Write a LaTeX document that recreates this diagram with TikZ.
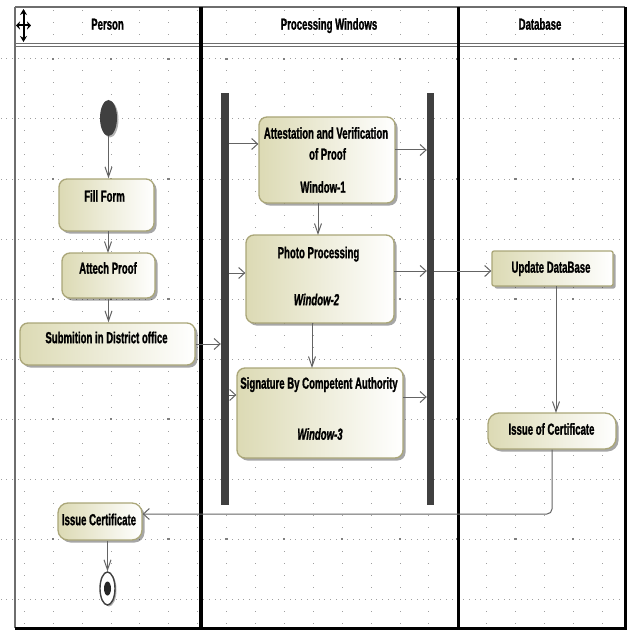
\documentclass[tikz,border=0pt]{standalone}
\usepackage{fontspec}
\setmainfont{Liberation Sans}[FakeStretch=0.6, BoldFeatures={FakeBold=1.2}, BoldItalicFeatures={FakeBold=1.2}]
\usetikzlibrary{arrows.meta,shapes.geometric,shadows}

\definecolor{boxedge}{RGB}{170,166,120}
\definecolor{boxfill}{RGB}{220,218,180}
\definecolor{flow}{RGB}{100,100,100}
\definecolor{barcol}{RGB}{64,64,64}
\definecolor{griddot}{RGB}{160,160,160}
\definecolor{framegray}{RGB}{110,110,110}

\tikzset{
  actbox/.style={draw=boxedge, line width=1.3pt, rounded corners=8pt,
    left color=boxfill, right color=white, inner sep=0pt,
    drop shadow={shadow xshift=2.5pt, shadow yshift=-2.5pt, opacity=0.35, fill=black}},
  lbl/.style={font=\bfseries\fontsize{16}{18}\selectfont, inner sep=0pt,
    text height=11.4pt, text depth=0pt, anchor=center},
  ilbl/.style={lbl, font=\bfseries\itshape\fontsize{16}{18}\selectfont},
  hdr/.style={lbl},
  forkbar/.style={fill=barcol, draw=none, inner sep=0pt, minimum width=8pt},
  hflow/.style={draw=flow, line width=1pt, -{Straight Barb[length=6pt,width=11pt]}},
  vflow/.style={draw=flow, line width=1pt, -{Straight Barb[length=10pt,width=7pt]}},
  dot/.style={fill=griddot},
}

\begin{document}
\begin{tikzpicture}[x=1pt,y=-1pt]
\useasboundingbox (0,0) rectangle (627,631);
\fill[white] (0,0) rectangle (627,631);

% dotted background grid
\foreach \j in {0,...,9}{
  \foreach \i in {-4,...,104}{
    \fill[dot] ({24.3+5.78*\i-0.5},{59+60*\j-0.5}) rectangle ++(1,1);
  }
}
\foreach \i in {0,...,20}{
  \foreach \m in {-4,...,47}{
    \fill[dot] ({24.3+28.9*\i-0.5},{59+12*\m-0.5}) rectangle ++(1,1);
  }
}
\foreach \k in {0,...,9}{
  \foreach \j in {0,...,4}{
    \fill[griddot!80!black] ({53+57.8*\k-1.2},{59+120*\j-1.2}) rectangle ++(2.4,2.4);
  }
}

% swimlane frame
\draw[framegray, line width=1.6pt] (15,7) -- (625,7);
\draw[framegray, line width=1.6pt] (15,7) -- (15,628);
\draw[framegray, line width=1.2pt] (15,43.4) -- (625,43.4);
\draw[framegray, line width=1.2pt] (15,46.3) -- (625,46.3);
\draw[black, line width=3.5pt] (201,7) -- (201,628);
\draw[black, line width=3.5pt] (458.5,7) -- (458.5,628);
\draw[black, line width=3pt] (625,7) -- (625,629.5);
\draw[black, line width=3pt] (15,628) -- (626.5,628);

% move handle
\draw[black, line width=2pt, {Stealth[length=6pt,width=7pt]}-{Stealth[length=6pt,width=7pt]}] (23.5,9) -- (23.5,42);
\draw[black, line width=2pt, {Stealth[length=4pt,width=8pt]}-{Stealth[length=4pt,width=8pt]}] (16,25.5) -- (31,25.5);

% lane headers
\node[hdr] (hperson) at (107.5,24) {Person};
\node[hdr] (hproc) at (329,24) {Processing Windows};
\node[hdr] (hdb) at (540,24) {Database};

% start and end
\node[ellipse, fill=barcol, inner sep=0pt, minimum width=17pt, minimum height=36pt,
  drop shadow={shadow xshift=1.5pt, shadow yshift=-1.5pt, opacity=0.3, fill=black}] (init) at (108.5,118) {};
\node[ellipse, draw=barcol, line width=1.4pt, fill=white, inner sep=0pt,
  minimum width=15pt, minimum height=33pt,
  drop shadow={shadow xshift=1.5pt, shadow yshift=-1.5pt, opacity=0.3, fill=black}] (final) at (107.5,588.5) {};
\node[ellipse, fill=black!85, inner sep=0pt, minimum width=7pt, minimum height=14pt] (finaldot) at (107.5,588.5) {};

% Person lane actions
\node[actbox, minimum width=95pt, minimum height=52pt] (fill) at (106.5,205) {};
\node[lbl] (fillt) at (104.5,196) {Fill Form};
\node[actbox, minimum width=93pt, minimum height=45pt] (attech) at (108.5,275.5) {};
\node[lbl] (attecht) at (108,268) {Attech Proof};
\node[actbox, minimum width=175pt, minimum height=42pt] (submit) at (107.5,344) {};
\node[lbl] (submitt) at (106.5,337.5) {Submition in District office};
\node[actbox, minimum width=84pt, minimum height=37pt, rounded corners=10pt] (issuec) at (100,521.5) {};
\node[lbl] (issuect) at (99,519.5) {Issue Certificate};

% fork bars
\node[forkbar, minimum height=412pt] (lbar) at (225,299) {};
\node[forkbar, minimum height=412pt, minimum width=7pt] (rbar) at (430.5,299) {};

% Processing lane actions
\node[actbox, minimum width=136pt, minimum height=86pt] (attest) at (327,160) {};
\node[lbl] (attestt1) at (326,133) {Attestation and Verification};
\node[lbl] (attestt2) at (327.5,154) {of Proof};
\node[lbl] (attestt3) at (323,187) {Window-1};
\node[actbox, minimum width=148pt, minimum height=88pt] (photo) at (320,279) {};
\node[lbl] (photot1) at (318.5,252.5) {Photo Processing};
\node[ilbl] (photot2) at (316.5,299.5) {Window-2};
\node[actbox, minimum width=166pt, minimum height=90pt] (sign) at (320,413) {};
\node[lbl] (signt1) at (319,383) {Signature By Competent Authority};
\node[ilbl] (signt2) at (320,434) {Window-3};

% Database lane actions
\node[actbox, minimum width=121pt, minimum height=35pt, rounded corners=2pt] (update) at (552.5,268.5) {};
\node[lbl] (updatet) at (551,267) {Update DataBase};
\node[actbox, minimum width=128pt, minimum height=36pt, rounded corners=11pt] (issueof) at (552,431) {};
\node[lbl] (issueoft) at (551.5,429) {Issue of Certificate};

% junction points on the bars
\coordinate (inA) at (229,144);
\coordinate (outA) at (395,150);
\coordinate (inP) at (229,273);
\coordinate (outP) at (394,271);
\coordinate (inS) at (229,395);
\coordinate (outS) at (403,397);
\coordinate (turn) at (552,514);

% flows
\draw[vflow] (init.south) -- (init.south |- fill.north);
\draw[vflow] (108,231) -- (108,253);
\draw[vflow] (attech.south) -- (attech.south |- submit.north);
\draw[hflow] (submit.east) -- (submit.east -| lbar.west);
\draw[hflow] (inA) -- (inA -| attest.west);
\draw[hflow] (outA) -- (outA -| rbar.west);
\draw[vflow] (318,203) -- (318,235);
\draw[hflow] (inP) -- (inP -| photo.west);
\draw[hflow] (outP) -- (outP -| rbar.west);
\draw[hflow] (outP -| rbar.east) -- (outP -| update.west);
\draw[vflow] (312,323) -- (312,368);
\draw[hflow] (inS) -- (inS -| sign.west);
\draw[hflow] (outS) -- (outS -| rbar.west);
\draw[vflow] (556,286) -- (556,413);
\draw[hflow, rounded corners=5pt] (issueof.south -| turn) -- (turn) -- (turn -| issuec.east);
\draw[vflow] (issuec.south -| final.north) -- (final.north);
\end{tikzpicture}
\end{document}
